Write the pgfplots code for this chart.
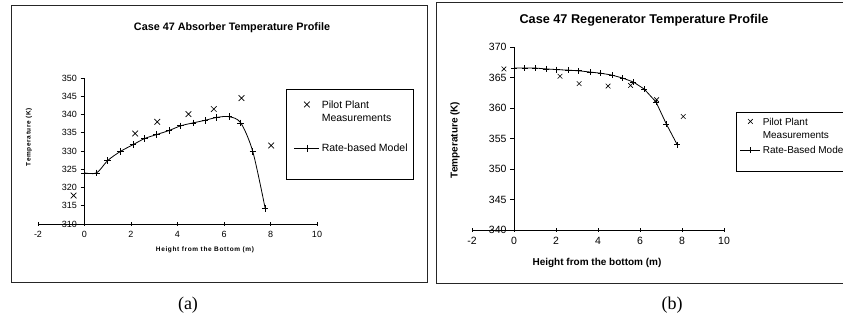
\documentclass[border=0pt]{standalone}
\usepackage{fontspec}
\setmainfont{Liberation Sans}
\newfontfamily\timesfont{Liberation Serif}
\usepackage{pgfplots}
\pgfplotsset{compat=1.18}

\pgfplotstableread{
x y
0 324.0
0.52 324.0
1.0 327.4
1.55 329.9
2.08 331.7
2.58 333.4
3.10 334.5
3.63 335.6
4.14 336.9
4.67 337.7
5.18 338.4
5.69 339.2
6.22 339.4
6.72 337.7
7.24 329.8
7.77 314.3
}\absmodel
\pgfplotstableread{
x y
-0.47 317.8
2.18 334.8
3.13 338.0
4.47 340.1
5.56 341.5
6.75 344.5
8.03 331.5
}\absmeas
\pgfplotstableread{
x y
0 366.55
0.51 366.55
1.02 366.55
1.54 366.4
2.03 366.3
2.58 366.2
3.08 366.1
3.61 365.9
4.13 365.7
4.66 365.4
5.18 364.9
5.69 364.25
6.20 363.1
6.76 361.0
7.25 357.4
7.77 354.0
}\regmodel
\pgfplotstableread{
x y
-0.48 366.4
2.19 365.2
3.10 364.0
4.48 363.6
5.55 363.7
6.79 361.35
8.06 358.6
}\regmeas

\pgfplotsset{
  myaxis/.style={
    scale only axis, anchor=south west,
    axis x line*=bottom, axis y line*=middle,
    xmin=-2, xmax=10, xtick={-2,0,2,4,6,8,10},
    tick align=outside, major tick length=4pt,
    x tick style={yshift=2pt},
    tick style={black, line width=0.6pt},
    axis line style={black, line width=0.8pt},
    /pgf/number format/assume math mode=true,
    clip=false,
    legend cell align=left,
    hide obscured x ticks=false, hide obscured y ticks=false,
  }
}

\begin{document}
\begin{tikzpicture}
\path[use as bounding box] (0pt,0pt) rectangle (843pt,320pt);
\clip (0pt,0pt) rectangle (843pt,320pt);

% frames
\draw[line width=1.2pt, black!85] (11.3pt,314.8pt) rectangle (427.7pt,37.7pt);
\draw[line width=1.2pt, black!85] (436.3pt,317.7pt) rectangle (860pt,36.7pt);

% ---------- (a) ----------
\begin{axis}[myaxis,
  at={(38pt,96pt)}, width=279pt, height=146pt,
  ymin=310, ymax=350, ytick={310,315,...,350},
  tick label style={font=\fontsize{9}{10}\selectfont},
  legend image code/.code={\draw[mark repeat=2,mark phase=2,#1] plot coordinates {(0pt,0pt) (12.5pt,0pt) (25pt,0pt)};},
  legend style={draw=none, fill=none, inner sep=0pt, outer sep=0pt,
    at={(0.9176,0.8582)}, anchor=north west,
    font=\fontsize{10.5}{12.6}\selectfont,
    nodes={inner sep=0pt, outer sep=0pt}, cells={anchor=west},
    column sep=2pt, row sep=33.5pt},
]
\addplot[only marks, mark=x, mark size=4pt, mark options={line width=0.7pt}, black] table {\absmeas};
\addlegendentry{\raisebox{0pt}[0.95em][0.25em]{\begin{tabular}[t]{@{}l@{}}Pilot Plant\\[0.2pt]Measurements\end{tabular}}}
\addplot[smooth, black, line width=0.8pt, mark=+, mark size=3.3pt, mark options={line width=0.7pt}] table {\absmodel};
\addlegendentry{Rate-based Model}
\end{axis}
\draw[line width=0.8pt] (286pt,230.7pt) rectangle (413.3pt,141pt);
\node[font=\bfseries\fontsize{10.8}{12}\selectfont] at (232pt,292pt) {Case 47 Absorber Temperature Profile};
\node[font=\bfseries\fontsize{6.5}{8}\selectfont\addfontfeature{LetterSpace=10}] at (205pt,70pt) {Height from the Bottom (m)};
\node[rotate=90, font=\bfseries\fontsize{6.5}{8}\selectfont\addfontfeature{LetterSpace=10}] at (29pt,183pt) {Temperature (K)};
\node[font=\timesfont\fontsize{18}{20}\selectfont] at (188pt,15pt) {(a)};

% ---------- (b) ----------
\begin{axis}[myaxis,
  at={(472pt,90pt)}, width=252pt, height=183pt,
  ymin=340, ymax=370, ytick={340,345,...,370},
  tick label style={font=\fontsize{10.5}{12}\selectfont},
  legend image code/.code={\draw[mark repeat=2,mark phase=2,#1] plot coordinates {(0pt,0pt) (10pt,0pt) (20pt,0pt)};},
  legend style={draw=none, fill=none, inner sep=0pt, outer sep=0pt,
    at={(1.0635,0.6230)}, anchor=north west,
    font=\fontsize{10}{12}\selectfont,
    nodes={inner sep=0pt, outer sep=0pt}, cells={anchor=west},
    column sep=2pt, row sep=19pt},
]
\addplot[only marks, mark=x, mark size=3.3pt, mark options={line width=0.6pt}, black] table {\regmeas};
\addlegendentry{\raisebox{0pt}[0.95em][0.25em]{\begin{tabular}[t]{@{}l@{}}Pilot Plant\\[1.5pt]Measurements\end{tabular}}}
\addplot[black, line width=0.8pt, mark=+, mark size=3pt, mark options={line width=0.6pt}] table {\regmodel};
\addlegendentry{Rate-Based Model}
\end{axis}
\draw[line width=0.8pt] (736pt,208pt) rectangle (860pt,149pt);
\node[font=\bfseries\fontsize{12.7}{14}\selectfont] at (644pt,300pt) {Case 47 Regenerator Temperature Profile};
\node[font=\bfseries\fontsize{10}{12}\selectfont] at (597pt,57pt) {Height from the bottom (m)};
\node[rotate=90, font=\bfseries\fontsize{10}{12}\selectfont] at (455pt,180pt) {Temperature (K)};
\node[font=\timesfont\fontsize{18}{20}\selectfont] at (672pt,15pt) {(b)};
\end{tikzpicture}
\end{document}
